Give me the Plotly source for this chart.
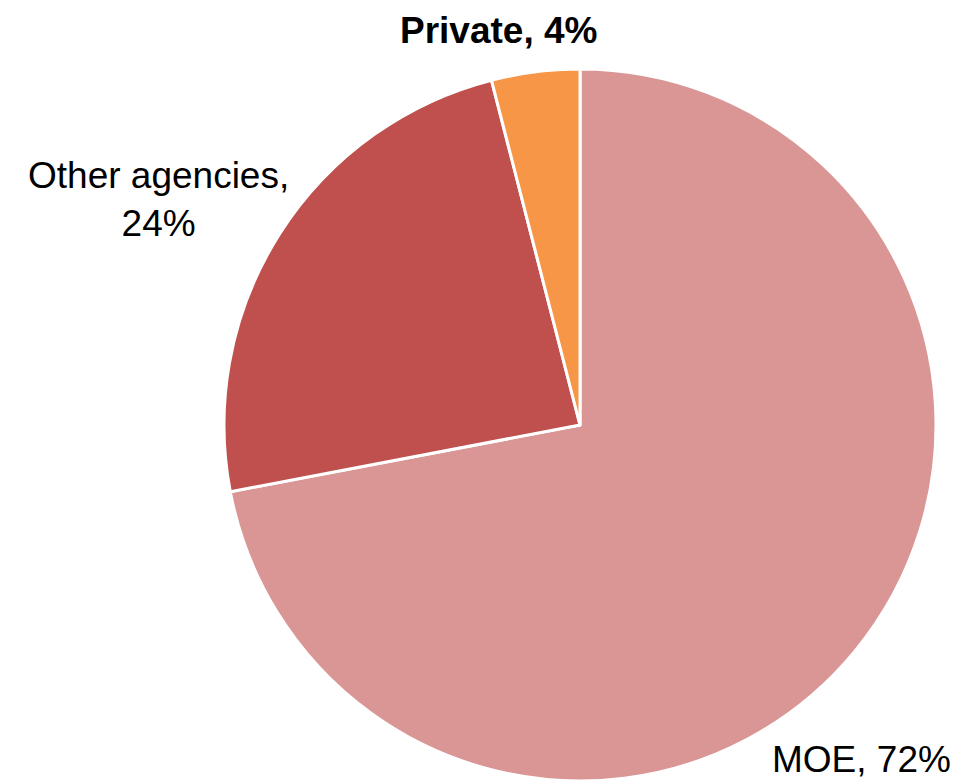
import plotly.graph_objects as go

# Share of funding by source
labels = ["MOE", "Other agencies", "Private"]
values = [72, 24, 4]
colors = ["#D99694", "#C0504D", "#F79646"]

W, H = 954, 781

fig = go.Figure(
    go.Pie(
        labels=labels,
        values=values,
        sort=False,
        direction="clockwise",
        rotation=0,
        marker=dict(colors=colors, line=dict(color="white", width=3)),
        textinfo="none",
        hoverinfo="label+percent",
        domain=dict(x=[224 / W, 936 / W], y=[0.0, (H - 69) / H]),
        showlegend=False,
    )
)

total = sum(values)
pct = [round(v / total * 100) for v in values]

# Outside labels: (x_px, y_px, text)
label_font = dict(family="Liberation Sans, Arial, sans-serif", size=37, color="black")
placements = [
    (861, 759, f"{labels[0]}, {pct[0]}%"),
    (158, 200, f"{labels[1]},<br>{pct[1]}%"),
    (498, 31, f"<b>{labels[2]}, {pct[2]}%</b>"),
]
for x, y, txt in placements:
    fig.add_annotation(
        x=x / W, y=1 - y / H, xref="paper", yref="paper",
        text=txt, showarrow=False, font=label_font,
        xanchor="center", yanchor="middle", align="center",
    )

fig.update_layout(
    width=W, height=H,
    margin=dict(l=0, r=0, t=0, b=0),
    paper_bgcolor="white",
    plot_bgcolor="white",
)

fig.write_html("out.html")
